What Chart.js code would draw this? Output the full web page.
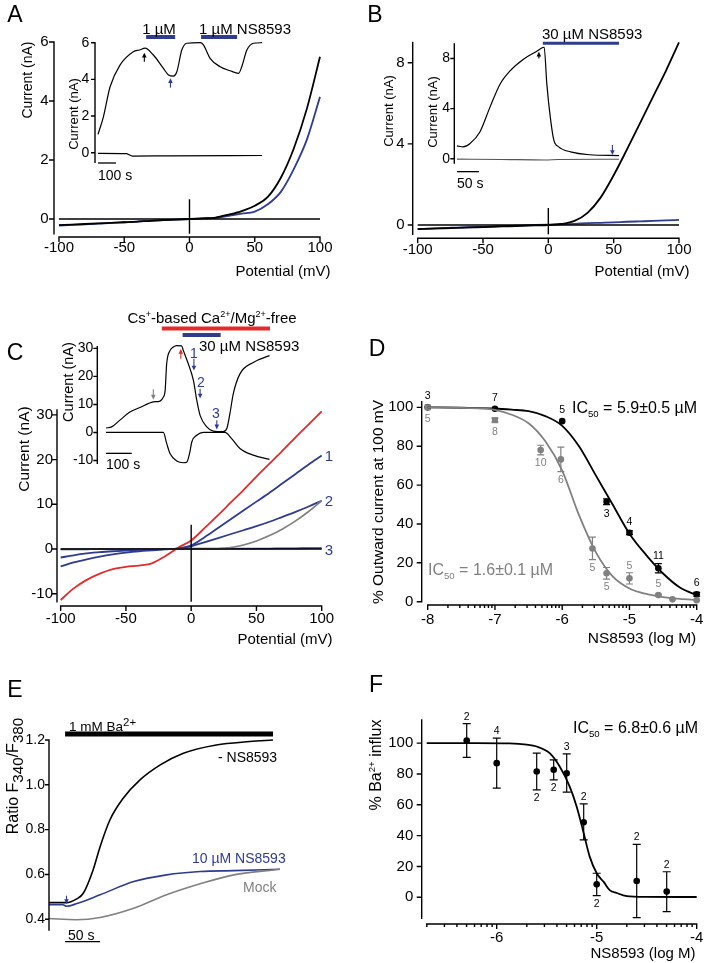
<!DOCTYPE html>
<html>
<head>
<meta charset="utf-8">
<title>NS8593 figure</title>
<script src="https://cdn.jsdelivr.net/npm/chart.js@4.4.1/dist/chart.umd.min.js"></script>
<style>
html,body{margin:0;padding:0;background:#fff;}
#fig{position:relative;width:709px;height:963px;overflow:hidden;background:#fff;font-family:"Liberation Sans",Arial,Helvetica,sans-serif;color:#000;}
#fig canvas{position:absolute;left:0;top:0;}
.t{position:absolute;white-space:nowrap;line-height:1;z-index:5;}
.c{transform:translate(-50%,-50%);}
.l{transform:translate(0,-50%);}
.r{transform:translate(-50%,-50%) rotate(-90deg);}
.sb{font-size:0.6em;vertical-align:-0.4em;line-height:0;}
.sp{font-size:0.6em;vertical-align:0.65em;line-height:0;}
.sb2{font-size:0.95em;vertical-align:-0.3em;line-height:0;}
.sp2{font-size:0.85em;vertical-align:0.45em;line-height:0;}
.blue{color:#2e3b8f;}
.gray{color:#808080;}
</style>
</head>
<body>
<div id="fig">
<div class="t c" style="left:15px;top:14px;font-size:23px">A</div>
<div class="t r" style="left:27px;top:80px;font-size:14px">Current (nA)</div>
<div class="t c" style="left:283px;top:270px;font-size:15px">Potential (mV)</div>
<div class="t r" style="left:73px;top:114px;font-size:13px">Current (nA)</div>
<div class="t l" style="left:98px;top:175px;font-size:14px">100 s</div>
<div class="t c" style="left:159px;top:28px;font-size:15px">1 µM</div>
<div class="t l" style="left:199px;top:28px;font-size:15px">1 µM NS8593</div>

<div class="t c" style="left:375px;top:14px;font-size:23px">B</div>
<div class="t r" style="left:388px;top:111px;font-size:13px">Current (nA)</div>
<div class="t c" style="left:642px;top:270px;font-size:15px">Potential (mV)</div>
<div class="t r" style="left:432px;top:112px;font-size:13px">Current (nA)</div>
<div class="t l" style="left:457px;top:183px;font-size:14px">50 s</div>
<div class="t l" style="left:542px;top:33px;font-size:15px">30 µM NS8593</div>

<div class="t c" style="left:15px;top:352px;font-size:23px">C</div>
<div class="t c" style="left:212px;top:317px;font-size:15px">Cs<span class="sp">+</span>-based Ca<span class="sp">2+</span>/Mg<span class="sp">2+</span>-free</div>
<div class="t l" style="left:199px;top:345px;font-size:15px">30 µM NS8593</div>
<div class="t r" style="left:68px;top:382px;font-size:14.5px">Current (nA)</div>
<div class="t l" style="left:106px;top:464px;font-size:14px">100 s</div>
<div class="t c blue" style="left:194px;top:353px;font-size:14px">1</div>
<div class="t c blue" style="left:201px;top:382px;font-size:14px">2</div>
<div class="t c blue" style="left:216px;top:413px;font-size:14px">3</div>
<div class="t r" style="left:24px;top:449px;font-size:15.5px">Current (nA)</div>
<div class="t c" style="left:285px;top:638px;font-size:15px">Potential (mV)</div>
<div class="t c blue" style="left:329px;top:455px;font-size:15px">1</div>
<div class="t c blue" style="left:329px;top:500px;font-size:15px">2</div>
<div class="t c blue" style="left:329px;top:549px;font-size:15px">3</div>

<div class="t c" style="left:377px;top:348px;font-size:23px">D</div>
<div class="t r" style="left:378px;top:502px;font-size:15.5px">% Outward current at 100 mV</div>
<div class="t c" style="left:642px;top:638px;font-size:15.5px">NS8593 (log M)</div>
<div class="t l" style="left:572px;top:408px;font-size:16px">IC<span class="sb">50</span> = 5.9±0.5 µM</div>
<div class="t l gray" style="left:428px;top:570px;font-size:16px">IC<span class="sb">50</span> = 1.6±0.1 µM</div>

<div class="t c" style="left:15px;top:689px;font-size:23px">E</div>
<div class="t r" style="left:12.5px;top:776px;font-size:16px">Ratio F<span class="sb2">340</span>/F<span class="sb2">380</span></div>
<div class="t l" style="left:69px;top:727px;font-size:13.5px">1 mM Ba<span class="sp2">2+</span></div>
<div class="t l" style="left:218px;top:757px;font-size:14px">- NS8593</div>
<div class="t l blue" style="left:192px;top:858px;font-size:14px">10 µM NS8593</div>
<div class="t l gray" style="left:243px;top:887px;font-size:14px">Mock</div>
<div class="t l" style="left:68px;top:935px;font-size:14px">50 s</div>

<div class="t c" style="left:376px;top:684px;font-size:23px">F</div>
<div class="t r" style="left:376px;top:765px;font-size:16px">% Ba<span class="sp">2+</span> influx</div>
<div class="t l" style="left:573px;top:728px;font-size:16px">IC<span class="sb">50</span> = 6.8±0.6 µM</div>
<div class="t c" style="left:643px;top:952px;font-size:15px">NS8593 (log M)</div>
</div>
<script>
// ---------------- DATA ----------------
const potentials=[-100,-90,-80,-70,-60,-50,-40,-30,-20,-10,0,10,20,30,40,50,60,70,80,90,100];
const potentialTicks=[-100,-50,0,50,100];

// Panel A (I-V, control vs 1 uM NS8593)
const aControl=[-0.21,-0.19,-0.17,-0.15,-0.13,-0.11,-0.09,-0.06,-0.04,-0.02,0,0.02,0.05,0.15,0.27,0.45,0.75,1.4,2.4,3.75,5.5];
const aNS8593=[-0.22,-0.2,-0.18,-0.16,-0.13,-0.11,-0.09,-0.06,-0.04,-0.02,0,0.02,0.04,0.11,0.18,0.25,0.5,0.92,1.7,2.7,4.14];
const aInsetTime=[0,30,67,122,196,230,261,307,363,391,419,437,465,493,567,585,622,678,733,780,798,826,863,910];
const aInsetCurrent=[1.0,1.96,3.6,4.78,5.51,5.6,5.7,5.33,4.6,4.24,4.18,4.4,5.6,5.97,6.0,5.88,5.15,4.69,4.47,4.33,4.7,5.6,5.97,6.0];
const aInsetLowTime=[0,160,170,190,400,910];
const aInsetLowCurrent=[-0.03,-0.05,-0.1,-0.18,-0.17,-0.15];
const aDrugBars=[[267,428],[572,772]];

// Panel B (I-V, control vs 30 uM NS8593)
const bControl=[-0.2,-0.18,-0.16,-0.14,-0.12,-0.1,-0.08,-0.06,-0.04,-0.02,0,0.05,0.2,0.6,1.35,2.45,3.7,5.0,6.3,7.6,9.0];
const bNS8593=[-0.2,-0.18,-0.15,-0.13,-0.11,-0.09,-0.06,-0.04,-0.02,0,0.02,0.04,0.06,0.09,0.11,0.13,0.16,0.18,0.2,0.23,0.25];
const bInsetTime=[0,14,29,52,75,98,120,151,182,195,198,204,212,220,231,258,301,368];
const bInsetCurrent=[1.03,0.95,1.2,2.14,4.12,5.97,7.0,7.95,8.6,8.88,8.9,6.0,3.3,1.48,0.95,0.55,0.32,0.25];
const bInsetLowTime=[0,100,200,230,368];
const bInsetLowCurrent=[-0.03,-0.06,-0.1,-0.06,-0.04];
const bDrugBar=[195,368];

// Panel C (Cs+-based Ca2+/Mg2+-free)
const cDivalentFree=[-11.4,-8.8,-6.9,-5.5,-4.5,-4.0,-3.7,-3.2,-1.6,0.3,1.9,4.6,7.4,10.3,13.2,16.2,19.1,22.0,25.0,27.9,30.8];
const cTrace1=[-3.9,-3.0,-2.3,-1.7,-1.2,-0.8,-0.5,-0.3,-0.1,0.15,0.8,2.6,4.6,6.6,8.6,10.6,12.6,14.7,16.8,18.9,20.9];
const cTrace2=[-1.9,-1.4,-1.0,-0.7,-0.5,-0.35,-0.2,-0.1,0,0.1,0.6,1.5,2.4,3.3,4.2,5.1,6.1,7.2,8.3,9.5,10.8];
const cTrace3=[-0.1,-0.1,-0.05,0,0,0,0,0,0,0,0.1,0.1,0.1,0.1,0.1,0.1,0.1,0.15,0.15,0.2,0.2];
const cBaseline=[0,0,0,0,0,0,0,0,0,0,0,0,0.05,0.3,0.9,1.8,3.0,4.5,6.3,8.4,10.8];
const cInsetTime=[0,22,54,93,132,184,210,222,230,236,249,262,275,294,301,320,340,353,366,392,417,456,470,482,495,521,573,636];
const cInsetCurrent=[1.6,2.0,4.4,7.3,8.9,10.9,11.2,12.5,15,24.5,29.2,30.5,31,30.9,29.2,24.5,18.6,11.5,6.1,2.0,0.5,0.3,1.4,6.7,13.8,20.9,25,27.4];
const cInsetLowTime=[0,223,236,249,275,301,314,325,334,353,379,463,488,521,573,636];
const cInsetLowCurrent=[0,0,-3.9,-7.5,-10.2,-10.8,-10.6,-7.5,-3.3,-1.0,0,0,-2.1,-5.7,-8.1,-9.6];
const cFreeBar=[217,638];
const cDrugBar=[298,446];

// Panel D (concentration-response, % outward current at 100 mV)
const dLogConc=[-8,-7,-6,-5.34,-5,-4.57,-4];
const dBlackMean=[100,99.3,92.9,51.4,35.5,17.2,3.8];
const dBlackSem=[0,0,0,1.5,1,2.4,1];
const dBlackN=['3','7','5','3','4','11','6'];
const dBlackNPos=[1,1,1,-1,1,1,1];
const dGrayLogConc=[-8,-7,-6.32,-6.02,-5.55,-5.34,-5,-4.57,-4.36,-4];
const dGrayMean=[100,93.4,78,73.2,27.4,14.6,12,3.4,1.2,0.8];
const dGraySem=[0,1,2.5,6.3,5.8,3,2.9,0.5,0,0];
const dGrayN=['5','8','10','6','5','5','5','5','',''];
const dGrayNPos=[-1,-1,-1,-1,-1,-1,1,1,-1,-1];
const dFitX=[-8,-7.5,-7,-6.75,-6.5,-6.25,-6,-5.75,-5.5,-5.25,-5,-4.75,-4.5,-4.25,-4];
const dFitBlack=[100,99.8,99.4,98.8,98,95.5,90.5,80,65,50,35,24,14.5,7.3,3.4];
const dFitGray=[100,99.7,98.7,96.2,91.8,82.5,67.5,44.5,25.5,13,6.8,4,2.4,1.4,0.9];
const dTicks=[-8,-7,-6,-5,-4];

// Panel E (Fura-2 ratio traces)
const eNoDrugTime=[0,25,39,49,63,73,87,106,130,159,192,239,287,320];
const eNoDrug=[0.474,0.474,0.49,0.516,0.62,0.724,0.843,0.94,1.022,1.089,1.141,1.178,1.193,1.2];
const eNSTime=[0,20,25,40,73,121,168,216,264,330];
const eNS8593=[0.465,0.465,0.458,0.47,0.509,0.568,0.598,0.613,0.617,0.623];
const eMockTime=[0,39,73,121,168,216,264,330];
const eMock=[0.403,0.398,0.408,0.449,0.509,0.558,0.598,0.623];
const eBaBar=[23,320];
const eTicks=[0.4,0.6,0.8,1.0,1.2];

// Panel F (% Ba2+ influx)
const fLogConc=[-6.3,-6.0,-5.6,-5.43,-5.3,-5.13,-5.0,-4.6,-4.3];
const fMean=[101.7,87,81.6,82.7,80.5,48.7,8.4,10.6,3.7];
const fLow=[90.7,70.8,69.7,76.2,68.2,37.2,1.1,-13.2,-9.3];
const fHigh=[112.6,103.2,93.5,89.2,93,60.6,15.6,34.4,16.6];
const fN=['2','4','2','2','3','2','2','2','2'];
const fNPos=[1,1,-1,-1,1,1,-1,1,1];
const fFitX=[-6.7,-6.2,-5.87,-5.7,-5.6,-5.47,-5.37,-5.27,-5.2,-5.13,-5.07,-5.0,-4.93,-4.87,-4.8,-4.7,-4.5,-4.0];
const fFit=[100,100,99.8,99,97.8,93.5,84.8,71.8,58.8,41.6,26.4,15.6,10,4.7,2.8,0.8,0.3,0.2];
const fTicks=[-6,-5,-4];
const pctTicks=[0,20,40,60,80,100];

// ---------------- DRAWING ----------------
const BLUE='#2e3b8f', RED='#e52a2a', GRAY='#808080', BLACK='#000000';
Chart.defaults.font.family='"Liberation Sans", Arial, Helvetica, sans-serif';
Chart.defaults.color='#000';
const W=709,H=963;
const fig=document.getElementById('fig');

function minorLog(decades,lo,hi){const out=[];decades.forEach(d=>{for(let k=2;k<=9;k++){const v=d+Math.log10(k);if(v>=lo-0.005&&v<=hi+0.005)out.push(v);}});return out;}

function curve(xs,ys,color,width,extra){
  return Object.assign({data:xs.map((x,i)=>({x:x,y:ys[i]})),showLine:true,borderColor:color,backgroundColor:color,
    borderWidth:width,pointRadius:0,pointHoverRadius:0,cubicInterpolationMode:'monotone',clip:false,fill:false},extra||{});
}
function seg(xs,ys,color,width){
  return {data:xs.map((x,i)=>({x:x,y:ys[i]})),showLine:true,borderColor:color,backgroundColor:color,borderWidth:width,
    pointRadius:0,pointHoverRadius:0,tension:0,clip:false,fill:false,borderCapStyle:'butt'};
}
function pts(xs,ys,color,radius,extra){
  return Object.assign({data:xs.map((x,i)=>({x:x,y:ys[i]})),showLine:false,pointRadius:radius,pointHoverRadius:radius,
    pointBackgroundColor:color,pointBorderColor:color,pointBorderWidth:0,clip:false},extra||{});
}

function makeChart(c){
  const cv=document.createElement('canvas');cv.width=W;cv.height=H;cv.style.width=W+'px';cv.style.height=H+'px';
  fig.appendChild(cv);
  const a=c.area;
  const showX=!!c.x.ticks, showY=!!c.y.ticks;
  const wY=showY?Math.min(a.l,48):0, hX=showX?Math.min(H-a.b,30):0;
  const fixH=s=>{s.height=hX;s.paddingLeft=0;s.paddingRight=0;s.paddingTop=0;s.paddingBottom=0;};
  const fixV=s=>{s.width=wY;s.paddingLeft=0;s.paddingRight=0;s.paddingTop=0;s.paddingBottom=0;};
  const setTicks=arr=>s=>{if(arr)s.ticks=arr.map(v=>({value:v}));};
  const fmt=v=>String(v);
  const custom={
    id:'custom'+Math.random().toString(36).slice(2),
    beforeDatasetsDraw(chart){
      const ctx=chart.ctx,sx=chart.scales.x,sy=chart.scales.y;
      chart.data.datasets.forEach(ds=>{
        if(!ds.errLo)return;
        ctx.save();ctx.strokeStyle=ds.errColor||'#000';ctx.lineWidth=1.2;
        ds.data.forEach((p,i)=>{
          const lo=ds.errLo[i],hi=ds.errHi[i];if(hi-lo<0.3)return;
          const px=sx.getPixelForValue(p.x),pl=sy.getPixelForValue(lo),ph=sy.getPixelForValue(hi),w=ds.capW||3.5;
          ctx.beginPath();ctx.moveTo(px,pl);ctx.lineTo(px,ph);ctx.moveTo(px-w,pl);ctx.lineTo(px+w,pl);ctx.moveTo(px-w,ph);ctx.lineTo(px+w,ph);ctx.stroke();
        });
        ctx.restore();
      });
    },
    afterDatasetsDraw(chart){
      const ctx=chart.ctx,ca=chart.chartArea,sx=chart.scales.x,sy=chart.scales.y;
      const o=c.axes||{};
      ctx.save();ctx.strokeStyle='#000';ctx.lineWidth=1.4;ctx.lineCap='butt';ctx.beginPath();
      if(o.x){const yb=ca.bottom;
        ctx.moveTo(sx.getPixelForValue(o.x.from)-0.7,yb);ctx.lineTo(sx.getPixelForValue(o.x.to)+0.7,yb);
        (o.x.ticks||[]).forEach(v=>{const p=sx.getPixelForValue(v);ctx.moveTo(p,yb);ctx.lineTo(p,yb+(o.x.len||5));});
        (o.x.minor||[]).forEach(v=>{const p=sx.getPixelForValue(v);ctx.moveTo(p,yb);ctx.lineTo(p,yb+(o.x.mlen||3));});
      }
      if(o.y){const xl=ca.left;
        ctx.moveTo(xl,sy.getPixelForValue(o.y.from)+0.7);ctx.lineTo(xl,sy.getPixelForValue(o.y.to)-0.7);
        (o.y.ticks||[]).forEach(v=>{const p=sy.getPixelForValue(v);ctx.moveTo(xl,p);ctx.lineTo(xl-(o.y.len||5),p);});
      }
      ctx.stroke();ctx.restore();
      (c.arrows||[]).forEach(ar=>{
        const x=sx.getPixelForValue(ar.x),y0=sy.getPixelForValue(ar.from),y1=sy.getPixelForValue(ar.to),dir=y1>y0?1:-1;
        ctx.save();ctx.strokeStyle=ar.color;ctx.fillStyle=ar.color;ctx.lineWidth=1.1;
        ctx.beginPath();ctx.moveTo(x,y0);ctx.lineTo(x,y1-dir*3);ctx.stroke();
        ctx.beginPath();ctx.moveTo(x,y1);ctx.lineTo(x-2.3,y1-dir*4.8);ctx.lineTo(x+2.3,y1-dir*4.8);ctx.closePath();ctx.fill();ctx.restore();
      });
      chart.data.datasets.forEach(ds=>{
        if(!ds.nText)return;
        ctx.save();ctx.fillStyle=ds.nColor||'#000';ctx.font='10.5px "Liberation Sans", Arial, sans-serif';ctx.textAlign='center';ctx.textBaseline='middle';
        ds.data.forEach((p,i)=>{
          const t=ds.nText[i];if(!t)return;
          const px=sx.getPixelForValue(p.x),py=sy.getPixelForValue(p.y),r=4;
          if(ds.nPos[i]>0){let top=py-r;if(ds.errHi){top=Math.min(top,sy.getPixelForValue(ds.errHi[i]));}ctx.fillText(t,px,top-7);}
          else{let bot=py+r;if(ds.errLo){bot=Math.max(bot,sy.getPixelForValue(ds.errLo[i]));}ctx.fillText(t,px,bot+8);}
        });
        ctx.restore();
      });
    }
  };
  return new Chart(cv,{type:'scatter',data:{datasets:c.datasets},
    options:{responsive:false,animation:false,devicePixelRatio:1,events:[],
      layout:{autoPadding:false,padding:{left:a.l-wY,top:a.t,right:W-a.r,bottom:H-a.b-hX}},
      plugins:{legend:{display:false},tooltip:{enabled:false},title:{display:false}},
      scales:{
        x:{type:'linear',position:'bottom',min:c.x.min,max:c.x.max,display:showX,
           grid:{display:false,drawTicks:false},border:{display:false},
           ticks:{padding:c.x.pad||2,font:{size:c.x.fs||15},color:'#000',autoSkip:false,maxRotation:0,minRotation:0,callback:c.x.fmt||fmt},
           afterBuildTicks:setTicks(c.x.ticks),afterFit:fixH},
        y:{type:'linear',position:'left',min:c.y.min,max:c.y.max,display:showY,
           grid:{display:false,drawTicks:false},border:{display:false},
           ticks:{padding:c.y.pad||5,font:{size:c.y.fs||15},color:'#000',autoSkip:false,callback:c.y.fmt||fmt},
           afterBuildTicks:setTicks(c.y.ticks),afterFit:fixV}
      }},
    plugins:[custom]});
}

// ---- Panel A main ----
makeChart({area:{l:54,t:42,r:320,b:237},
  x:{min:-103.8,max:100,ticks:potentialTicks,pad:1.5},
  y:{min:-0.61,max:6,ticks:[0,2,4,6],pad:5.5},
  axes:{x:{from:-100,to:100,ticks:potentialTicks},y:{from:-0.5,to:6,ticks:[0,2,4,6]}},
  datasets:[seg([-100,100],[0,0],BLACK,1.4),seg([0,0],[-0.5,0.67],BLACK,1.4),
    curve(potentials,aControl,BLACK,1.8),curve(potentials,aNS8593,BLUE,1.8)]});
// ---- Panel A inset ----
makeChart({area:{l:95,t:42.7,r:262,b:163},
  x:{min:-16.7,max:910},
  y:{min:-0.56,max:6,ticks:[0,2,4,6],pad:5.7,fs:14},
  axes:{y:{from:-0.52,to:6,ticks:[0,2,4,6],len:4}},
  datasets:[curve(aInsetTime,aInsetCurrent,BLACK,1.2),curve(aInsetLowTime,aInsetLowCurrent,BLACK,1.2),
    seg(aDrugBars[0],[6.31,6.31],BLUE,4),seg(aDrugBars[1],[6.31,6.31],BLUE,4),seg([0,100],[-0.56,-0.56],BLACK,1.3)],
  arrows:[{x:257,from:4.96,to:5.45,color:BLACK},{x:402,from:3.55,to:4.06,color:BLUE}]});

// ---- Panel B main ----
makeChart({area:{l:412.7,t:42.4,r:679,b:238.3},
  x:{min:-103.8,max:100,ticks:potentialTicks,pad:2.5},
  y:{min:-0.655,max:9,ticks:[0,4,8],pad:8},
  axes:{x:{from:-100,to:100,ticks:potentialTicks},y:{from:-0.46,to:9,ticks:[0,4,8]}},
  datasets:[seg([-100,100],[0,0],BLACK,1.4),seg([0,0],[-0.46,0.84],BLACK,1.4),
    curve(potentials,bControl,BLACK,1.8),curve(potentials,bNS8593,BLUE,1.8)]});
// ---- Panel B inset ----
makeChart({area:{l:454.3,t:44,r:619,b:163},
  x:{min:-6.1,max:368},
  y:{min:-0.34,max:9.16,ticks:[0,4,8],pad:4.3,fs:14},
  axes:{y:{from:-0.34,to:9.16,ticks:[0,4,8],len:4}},
  datasets:[curve(bInsetTime,bInsetCurrent,BLACK,1.2),curve(bInsetLowTime,bInsetLowCurrent,'#555555',1.2),
    seg(bDrugBar,[9.22,9.22],BLUE,3),seg([0,50],[-1.03,-1.03],BLACK,1.3)],
  arrows:[{x:186,from:8.0,to:8.55,color:BLACK},{x:353,from:1.1,to:0.3,color:BLUE}]});

// ---- Panel C main ----
makeChart({area:{l:57,t:410,r:321.7,b:606},
  x:{min:-102.8,max:100,ticks:potentialTicks,pad:4},
  y:{min:-12.75,max:31.1,ticks:[-10,0,10,20,30],pad:4},
  axes:{x:{from:-100,to:100,ticks:potentialTicks},y:{from:-11.8,to:31.1,ticks:[-10,0,10,20,30]}},
  datasets:[seg([-100,100],[0,0],BLACK,1.4),seg([0,0],[-11.8,5.4],BLACK,1.4),
    curve(potentials,cBaseline,GRAY,1.7),curve(potentials,cTrace3,BLUE,1.8),curve(potentials,cTrace2,BLUE,1.8),
    curve(potentials,cTrace1,BLUE,1.8),curve(potentials,cDivalentFree,RED,1.8)]});
// ---- Panel C inset ----
makeChart({area:{l:97.3,t:346.7,r:269.5,b:463.3},
  x:{min:-33.9,max:636},
  y:{min:-11,max:30.6,ticks:[-10,0,10,20,30],pad:4,fs:14},
  axes:{y:{from:-11,to:30.6,ticks:[-10,0,10,20,30],len:4}},
  datasets:[curve(cInsetTime,cInsetCurrent,BLACK,1.2),curve(cInsetLowTime,cInsetLowCurrent,BLACK,1.2),
    seg(cFreeBar,[37.1,37.1],RED,4),seg(cDrugBar,[34.8,34.8],BLUE,4),seg([0,100],[-7.45,-7.45],BLACK,1.3)],
  arrows:[{x:184,from:15.4,to:11.7,color:GRAY},{x:291,from:26.3,to:29.8,color:RED},{x:342,from:26.3,to:22.1,color:BLUE},
    {x:366,from:15.6,to:12.1,color:BLUE},{x:431,from:4.4,to:1.1,color:BLUE}]});

// ---- Panel D ----
makeChart({area:{l:421.7,t:401.7,r:696.7,b:605},
  x:{min:-8.089,max:-4,ticks:dTicks,pad:6},
  y:{min:-1.7,max:102.9,ticks:pctTicks,pad:8.4},
  axes:{x:{from:-8,to:-4,ticks:dTicks,minor:minorLog([-8,-7,-6,-5],-8,-4),len:5,mlen:3},y:{from:0,to:102.9,ticks:pctTicks}},
  datasets:[curve(dFitX,dFitGray,GRAY,1.8),curve(dFitX,dFitBlack,BLACK,1.8),
    pts(dGrayLogConc,dGrayMean,GRAY,[4.3,4.3,3.3,3.3,3.3,3.3,3.3,3.3,3.3,3.3],{pointStyle:['rect','rect','circle','circle','circle','circle','circle','circle','circle','circle'],
      errLo:dGrayMean.map((m,i)=>m-dGraySem[i]),errHi:dGrayMean.map((m,i)=>m+dGraySem[i]),errColor:GRAY,capW:3.5,nText:dGrayN,nPos:dGrayNPos,nColor:GRAY}),
    pts(dLogConc,dBlackMean,BLACK,3.3,{errLo:dBlackMean.map((m,i)=>m-dBlackSem[i]),errHi:dBlackMean.map((m,i)=>m+dBlackSem[i]),errColor:BLACK,capW:3.5,nText:dBlackN,nPos:dBlackNPos,nColor:BLACK})]});

// ---- Panel E ----
makeChart({area:{l:49,t:740,r:280,b:930},
  x:{min:0,max:330},
  y:{min:0.352,max:1.2,ticks:eTicks,pad:4,fs:14,fmt:v=>v.toFixed(1)},
  axes:{y:{from:0.352,to:1.2,ticks:eTicks,len:4}},
  datasets:[curve(eMockTime,eMock,GRAY,1.6),curve(eNSTime,eNS8593,BLUE,1.6),curve(eNoDrugTime,eNoDrug,BLACK,1.6),
    seg(eBaBar,[1.227,1.227],BLACK,5),seg([23,73],[0.3,0.3],BLACK,1.3)],
  arrows:[{x:25,from:0.505,to:0.468,color:BLUE}]});

// ---- Panel F ----
makeChart({area:{l:421.7,t:720,r:696.7,b:924},
  x:{min:-6.75,max:-4,ticks:fTicks,pad:5},
  y:{min:-17.3,max:115,ticks:pctTicks,pad:8.4},
  axes:{x:{from:-6.7,to:-4,ticks:fTicks,minor:minorLog([-7,-6,-5],-6.7,-4),len:5,mlen:3},y:{from:-13.6,to:115,ticks:pctTicks}},
  datasets:[curve(fFitX,fFit,BLACK,1.8),
    pts(fLogConc,fMean,BLACK,3.3,{errLo:fLow,errHi:fHigh,errColor:BLACK,capW:4,nText:fN,nPos:fNPos,nColor:BLACK})]});
</script>
</body>
</html>
